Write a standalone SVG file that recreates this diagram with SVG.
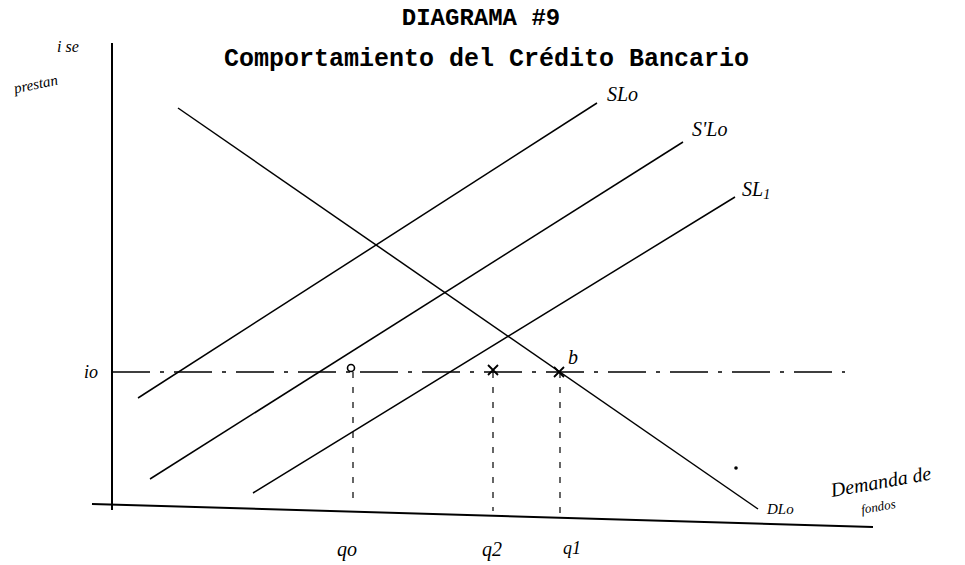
<svg xmlns="http://www.w3.org/2000/svg" width="965" height="565" viewBox="0 0 965 565">
<style>
.title{font-family:"Liberation Mono","DejaVu Sans Mono",monospace;font-weight:bold;fill:#000}
.hand{font-family:"Liberation Serif","DejaVu Serif",serif;font-style:italic;fill:#000}
.ax{stroke:#000;stroke-width:2;fill:none}
.ln{stroke:#000;stroke-width:1.5;fill:none}
.dash{stroke:#000;stroke-width:1.4;fill:none;stroke-dasharray:38 10 4 10}
.vdash{stroke:#000;stroke-width:1.2;fill:none;stroke-dasharray:6 9}
</style>
<rect width="965" height="565" fill="#fff"/>
<g id="title">
<text class="title" x="481" y="25" font-size="24" text-anchor="middle">DIAGRAMA #9</text>
<text class="title" x="224" y="66" font-size="25">Comportamiento del Crédito Bancario</text>
</g>
<g id="axes">
<line class="ax" x1="112" y1="43" x2="112" y2="510"/>
<line class="ax" x1="92" y1="504" x2="873" y2="527"/>
</g>
<g id="connectors">
<line id="SLo-line" class="ln" x1="138" y1="398" x2="597" y2="103"/>
<line id="S1Lo-line" class="ln" x1="150" y1="479" x2="683" y2="142"/>
<line id="SL1-line" class="ln" x1="253" y1="493" x2="735" y2="197"/>
<line id="DLo-line" class="ln" x1="178" y1="108" x2="758" y2="509"/>
<line id="io-line" class="dash" x1="112" y1="372" x2="845" y2="372"/>
<line class="vdash" x1="353" y1="372" x2="353" y2="507"/>
<line class="vdash" x1="493" y1="372" x2="493" y2="511"/>
<line class="vdash" x1="560" y1="372" x2="560" y2="513"/>
</g>
<g id="points">
<circle cx="351" cy="368" r="3.5" fill="none" stroke="#000" stroke-width="1.6"/>
<path d="M488 365 L498 375 M498 365 L488 375" stroke="#000" stroke-width="1.8"/>
<path d="M554 367 L564 377 M564 367 L554 377" stroke="#000" stroke-width="1.8"/>
<circle cx="736" cy="468" r="1.8" fill="#000"/>
</g>
<g id="labels">
<text class="hand" x="57" y="52" font-size="16">i se</text>
<text class="hand" x="13" y="86" font-size="15" transform="rotate(-12 50 80)">prestan</text>
<text class="hand" x="84" y="378" font-size="18">io</text>
<text class="hand" x="607" y="101" font-size="20">SLo</text>
<text class="hand" x="692" y="136" font-size="20">S'Lo</text>
<text class="hand" x="742" y="196" font-size="20">SL<tspan font-size="14" dy="3">1</tspan></text>
<text class="hand" x="767" y="514" font-size="15">DLo</text>
<text class="hand" x="568" y="364" font-size="20">b</text>
<text class="hand" x="832" y="497" font-size="20" transform="rotate(-10 832 497)">Demanda de</text>
<text class="hand" x="862" y="514" font-size="13" transform="rotate(-10 862 514)">fondos</text>
<text class="hand" x="337" y="556" font-size="20">qo</text>
<text class="hand" x="482" y="556" font-size="20">q2</text>
<text class="hand" x="563" y="554" font-size="18">q1</text>
</g>
</svg>
